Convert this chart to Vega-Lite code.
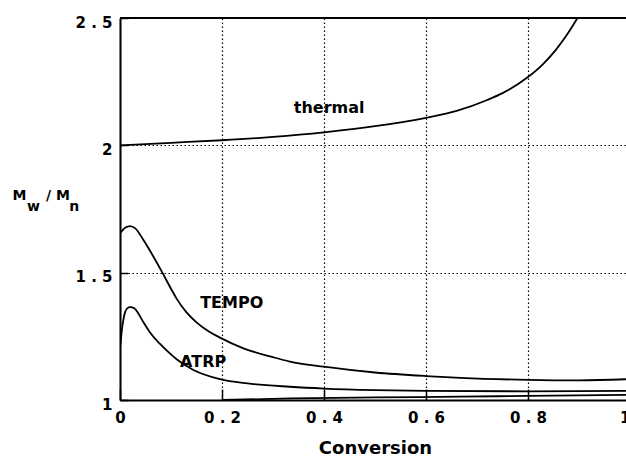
{
  "$schema": "https://vega.github.io/schema/vega-lite/v6.json",
  "width": 506,
  "height": 382,
  "autosize": {"type": "none"},
  "padding": {"left": 120, "top": 18, "right": 0, "bottom": 57},
  "background": "white",
  "config": {"view": {"stroke": null}, "font": "DejaVu Sans"},
  "datasets": {
    "curves": [
      {"series": "thermal", "x": 0, "y": 2.0},
      {"series": "thermal", "x": 0.1, "y": 2.01},
      {"series": "thermal", "x": 0.2, "y": 2.02},
      {"series": "thermal", "x": 0.3, "y": 2.033},
      {"series": "thermal", "x": 0.4, "y": 2.051},
      {"series": "thermal", "x": 0.5, "y": 2.075},
      {"series": "thermal", "x": 0.6, "y": 2.108},
      {"series": "thermal", "x": 0.66, "y": 2.135},
      {"series": "thermal", "x": 0.72, "y": 2.178},
      {"series": "thermal", "x": 0.75, "y": 2.205},
      {"series": "thermal", "x": 0.8, "y": 2.268},
      {"series": "thermal", "x": 0.83, "y": 2.32},
      {"series": "thermal", "x": 0.855, "y": 2.376},
      {"series": "thermal", "x": 0.875, "y": 2.43},
      {"series": "thermal", "x": 0.897, "y": 2.5},
      {"series": "TEMPO", "x": 0, "y": 1.654},
      {"series": "TEMPO", "x": 0.01, "y": 1.676},
      {"series": "TEMPO", "x": 0.02, "y": 1.683},
      {"series": "TEMPO", "x": 0.03, "y": 1.674},
      {"series": "TEMPO", "x": 0.046, "y": 1.628},
      {"series": "TEMPO", "x": 0.06, "y": 1.582},
      {"series": "TEMPO", "x": 0.082, "y": 1.504},
      {"series": "TEMPO", "x": 0.1, "y": 1.437},
      {"series": "TEMPO", "x": 0.111, "y": 1.398},
      {"series": "TEMPO", "x": 0.13, "y": 1.345},
      {"series": "TEMPO", "x": 0.15, "y": 1.305},
      {"series": "TEMPO", "x": 0.175, "y": 1.268},
      {"series": "TEMPO", "x": 0.196, "y": 1.245},
      {"series": "TEMPO", "x": 0.242, "y": 1.203},
      {"series": "TEMPO", "x": 0.3, "y": 1.168},
      {"series": "TEMPO", "x": 0.333, "y": 1.151},
      {"series": "TEMPO", "x": 0.4, "y": 1.131},
      {"series": "TEMPO", "x": 0.5, "y": 1.108},
      {"series": "TEMPO", "x": 0.6, "y": 1.094},
      {"series": "TEMPO", "x": 0.667, "y": 1.087},
      {"series": "TEMPO", "x": 0.8, "y": 1.079},
      {"series": "TEMPO", "x": 0.9, "y": 1.077},
      {"series": "TEMPO", "x": 1.0, "y": 1.082},
      {"series": "ATRP", "x": 0, "y": 1.2},
      {"series": "ATRP", "x": 0.004, "y": 1.28},
      {"series": "ATRP", "x": 0.0065, "y": 1.314},
      {"series": "ATRP", "x": 0.01, "y": 1.345},
      {"series": "ATRP", "x": 0.014, "y": 1.36},
      {"series": "ATRP", "x": 0.02, "y": 1.365},
      {"series": "ATRP", "x": 0.028, "y": 1.36},
      {"series": "ATRP", "x": 0.036, "y": 1.34},
      {"series": "ATRP", "x": 0.046, "y": 1.305},
      {"series": "ATRP", "x": 0.06, "y": 1.262},
      {"series": "ATRP", "x": 0.078, "y": 1.221},
      {"series": "ATRP", "x": 0.095, "y": 1.188},
      {"series": "ATRP", "x": 0.111, "y": 1.16},
      {"series": "ATRP", "x": 0.144, "y": 1.118},
      {"series": "ATRP", "x": 0.196, "y": 1.082},
      {"series": "ATRP", "x": 0.25, "y": 1.065},
      {"series": "ATRP", "x": 0.333, "y": 1.052},
      {"series": "ATRP", "x": 0.4, "y": 1.045},
      {"series": "ATRP", "x": 0.5, "y": 1.039},
      {"series": "ATRP", "x": 0.6, "y": 1.036},
      {"series": "ATRP", "x": 0.8, "y": 1.034},
      {"series": "ATRP", "x": 1.0, "y": 1.036},
      {"series": "lower", "x": 0.2, "y": 1.0},
      {"series": "lower", "x": 0.333, "y": 1.006},
      {"series": "lower", "x": 0.5, "y": 1.01},
      {"series": "lower", "x": 0.667, "y": 1.013},
      {"series": "lower", "x": 0.8, "y": 1.016},
      {"series": "lower", "x": 1.0, "y": 1.02}
    ],
    "labels": [
      {"label": "thermal", "x": 0.41, "y": 2.146},
      {"label": "TEMPO", "x": 0.219, "y": 1.38},
      {"label": "ATRP", "x": 0.163, "y": 1.15}
    ]
  },
  "layer": [
    {
      "data": {"name": "curves"},
      "mark": {"type": "line", "color": "black", "strokeWidth": 1.8, "clip": true, "interpolate": "monotone"},
      "encoding": {
        "x": {
          "field": "x", "type": "quantitative",
          "scale": {"domain": [0, 1], "range": [0, 510], "nice": false},
          "axis": {
            "values": [0, 0.2, 0.4, 0.6, 0.8, 1],
            "format": "~g",
            "title": "Conversion",
            "titleFontSize": 18, "titleFontWeight": "bold", "titleColor": "black", "titlePadding": 14,
            "labelFontSize": 15, "labelFontWeight": "bold", "labelColor": "black",
            "labelExpr": "replace(datum.label, '.', ' . ')",
            "labelAlign": {"condition": {"test": "datum.value == 1", "value": "right"}, "value": "center"},
            "labelFlush": false, "labelOverlap": false, "labelPadding": 21, "labelBound": false,
            "domainColor": "black", "domainWidth": 2,
            "tickColor": "black", "tickSize": -11, "tickWidth": 1.5,
            "grid": true, "gridColor": "black", "gridDash": [1.5, 2.5], "gridWidth": 1.2
          }
        },
        "y": {
          "field": "y", "type": "quantitative",
          "scale": {"domain": [1, 2.5], "nice": false, "zero": false},
          "axis": {
            "values": [1, 1.5, 2, 2.5],
            "format": "~g",
            "title": ["M\u00a0\u00a0\u00a0\u00a0/\u00a0M", "\u200b\u00a0\u00a0\u00a0w\u00a0\u00a0\u00a0\u00a0\u00a0\u00a0n"],
            "titleAngle": 0, "titleAlign": "left", "titleBaseline": "alphabetic",
            "titleX": -108, "titleY": 181, "titleFontSize": 14, "titleFontWeight": "bold",
            "titleLineHeight": 11, "titleColor": "black",
            "labelFontSize": 15, "labelFontWeight": "bold", "labelColor": "black",
            "labelExpr": "replace(datum.label, '.', ' . ')",
            "labelFlush": false, "labelOverlap": false, "labelPadding": 16, "labelOffset": 4,
            "domainColor": "black", "domainWidth": 2,
            "tickColor": "black", "tickSize": -8, "tickWidth": 1.5,
            "grid": true, "gridColor": "black", "gridDash": [1.5, 2.5], "gridWidth": 1.2
          }
        },
        "detail": {"field": "series", "type": "nominal"}
      }
    },
    {
      "data": {"name": "labels"},
      "mark": {"type": "text", "fontSize": 16, "fontWeight": "bold", "color": "black", "align": "center", "baseline": "middle"},
      "encoding": {
        "x": {"field": "x", "type": "quantitative"},
        "y": {"field": "y", "type": "quantitative"},
        "text": {"field": "label"}
      }
    },
    {
      "data": {"values": [{}]},
      "mark": {"type": "rule", "color": "black", "strokeWidth": 2},
      "encoding": {"y": {"datum": 2.5}}
    }
  ]
}
